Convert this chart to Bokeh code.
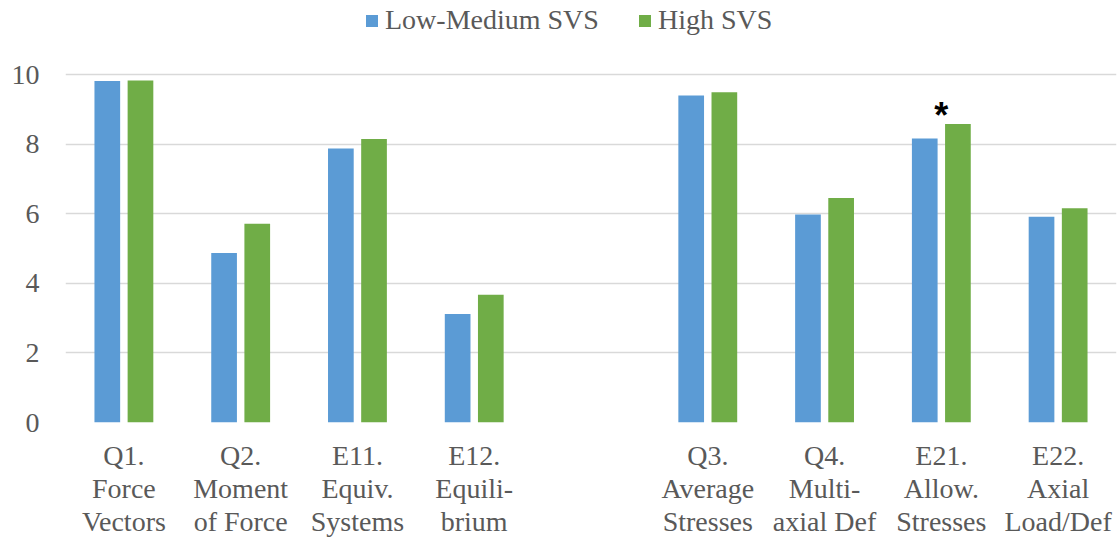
from bokeh.plotting import figure
from bokeh.models import (ColumnDataSource, Range1d, FixedTicker, Legend, LegendItem)
from bokeh.core.properties import value
from bokeh.embed import file_html
from bokeh.resources import INLINE

# ---- data ----
categories = ["Q1.\nForce\nVectors", "Q2.\nMoment\nof Force", "E11.\nEquiv.\nSystems",
              "E12.\nEquili-\nbrium", "Q3.\nAverage\nStresses", "Q4.\nMulti-\naxial Def",
              "E21.\nAllow.\nStresses", "E22.\nAxial\nLoad/Def"]
low_medium = [9.81, 4.87, 7.87, 3.12, 9.40, 5.98, 8.16, 5.91]
high = [9.83, 5.71, 8.15, 3.67, 9.49, 6.45, 8.58, 6.16]
significance = ["", "", "", "", "", "", "*", ""]
y_ticks = [0, 2, 4, 6, 8, 10]

# ---- layout: two groups of four, separated by an empty slot ----
xpos = [i if i < 4 else i + 1 for i in range(len(categories))]
offset = 0.142
bar_w = 0.22

src = ColumnDataSource(dict(
    x=xpos,
    x_low=[x - offset for x in xpos],
    x_high=[x + offset for x in xpos],
    low=low_medium, high=high, sig=significance,
))

FONT = "serif"
GREY = "#595959"

FRAME_H = 422          # frame spans from the canvas top down to the zero line
PX_PER_UNIT = 34.8     # 10 units = 348 px
Y_TOP = FRAME_H / PX_PER_UNIT

p = figure(output_backend="svg", toolbar_location=None,
           frame_width=1051, frame_height=FRAME_H,
           min_border_left=65, min_border_right=2, min_border_top=0, min_border_bottom=110,
           x_range=Range1d(-0.5, 8.5), y_range=Range1d(0, Y_TOP))
p.outline_line_color = None
p.background_fill_color = "white"
p.border_fill_color = "white"

r_low = p.vbar(x="x_low", top="low", width=bar_w, bottom=0, source=src,
               fill_color="#5B9BD5", line_color=None)
r_high = p.vbar(x="x_high", top="high", width=bar_w, bottom=0, source=src,
                fill_color="#70AD47", line_color=None)

p.text(x="x", y="high", text="sig", source=src, text_align="center",
       text_baseline="alphabetic", y_offset=-8, text_color="black",
       text_font=value("Liberation Sans"), text_font_style="bold",
       text_font_size="36px")

# axes
p.xaxis.ticker = FixedTicker(ticks=xpos)
p.xaxis.major_label_overrides = {x: c for x, c in zip(xpos, categories)}
p.yaxis.ticker = FixedTicker(ticks=y_ticks)
for ax in (p.xaxis[0], p.yaxis[0]):
    ax.axis_line_color = None
    ax.major_tick_line_color = None
    ax.minor_tick_line_color = None
    ax.major_tick_out = 0
    ax.major_tick_in = 0
    ax.major_label_text_font = FONT
    ax.major_label_text_font_size = "28px"
    ax.major_label_text_color = GREY
p.xaxis.major_label_standoff = 17
p.xaxis.major_label_text_line_height = 1.07
p.yaxis.major_label_standoff = 26

p.xgrid.grid_line_color = None
p.ygrid.grid_line_color = "#D9D9D9"
p.ygrid.grid_line_width = 1.5

legend = Legend(items=[LegendItem(label="Low-Medium SVS", renderers=[r_low]),
                       LegendItem(label="High SVS", renderers=[r_high])],
                orientation="horizontal", location=(299, FRAME_H - 36),
                glyph_width=15, glyph_height=15, label_standoff=6, spacing=38,
                padding=0, margin=0, border_line_color=None,
                background_fill_alpha=0,
                label_text_font=FONT, label_text_font_size="28px",
                label_text_color=GREY)
p.add_layout(legend, "center")

open("out.html", "w").write(file_html(p, INLINE))
